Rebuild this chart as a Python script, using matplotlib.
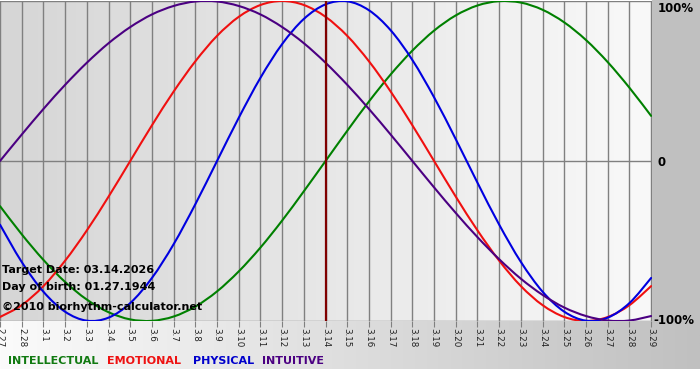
import numpy as np
import matplotlib
matplotlib.use('Agg')
import matplotlib.pyplot as plt
from matplotlib.colors import LinearSegmentedColormap
from matplotlib.patches import Rectangle, PathPatch
from matplotlib.path import Path

# days shown, 2.27 .. 3.29 (target day 3.14 in the middle)
day_labels = ['2.27', '2.28'] + ['3.%d' % i for i in range(1, 30)]
target_idx = 14 + 1

# cycle values (-1 .. 1)
intellectual = [-0.282, -0.458, -0.618, -0.756, -0.866, -0.945, -0.990, -0.999, -0.972, -0.910,
                -0.815, -0.690, -0.541, -0.372, -0.189, 0.000, 0.189, 0.372, 0.541, 0.690,
                0.815, 0.910, 0.972, 0.999, 0.990, 0.945, 0.866, 0.756, 0.618, 0.458, 0.282]
emotional = [-0.975, -0.901, -0.782, -0.623, -0.434, -0.223, 0.000, 0.223, 0.434, 0.623,
             0.782, 0.901, 0.975, 1.000, 0.975, 0.901, 0.782, 0.623, 0.434, 0.223,
             0.000, -0.223, -0.434, -0.623, -0.782, -0.901, -0.975, -1.000, -0.975, -0.901, -0.782]
physical = [-0.398, -0.631, -0.817, -0.942, -0.998, -0.979, -0.888, -0.731, -0.520, -0.270,
            0.000, 0.270, 0.520, 0.731, 0.888, 0.979, 0.998, 0.942, 0.817, 0.631,
            0.398, 0.136, -0.136, -0.398, -0.631, -0.817, -0.942, -0.998, -0.979, -0.888, -0.731]
intuitive = [0.000, 0.165, 0.325, 0.476, 0.614, 0.736, 0.837, 0.916, 0.969, 0.997,
             0.997, 0.969, 0.916, 0.837, 0.736, 0.614, 0.476, 0.325, 0.165, 0.000,
             -0.165, -0.325, -0.476, -0.614, -0.736, -0.837, -0.916, -0.969, -0.997, -0.997, -0.969]

series = [('INTELLECTUAL', intellectual, '#008000', '#117a11'),
          ('EMOTIONAL', emotional, '#f01010', '#ee1111'),
          ('PHYSICAL', physical, '#0000e0', '#0000cc'),
          ('INTUITIVE', intuitive, '#4b0082', '#4b0082')]

W, H = 700, 380
fig = plt.figure(figsize=(W / 100, H / 100), dpi=100)


def fx(x):
    return x / W


def fy(y):
    return 1 - y / H


def smooth_path(xs, ys):
    # catmull-rom through the points, drawn as cubic bezier segments
    pts = np.column_stack([xs, ys]).astype(float)
    ext = np.vstack([pts[0], pts, pts[-1]])
    verts = [pts[0]]
    codes = [Path.MOVETO]
    for i in range(len(pts) - 1):
        p0, p1, p2, p3 = ext[i], ext[i + 1], ext[i + 2], ext[i + 3]
        verts += [p1 + (p2 - p0) / 6, p2 - (p3 - p1) / 6, p2]
        codes += [Path.CURVE4] * 3
    return Path(verts, codes)


# background decorations in pixel coordinates
bg = fig.add_axes([0, 0, 1, 1])
bg.set_xlim(0, W)
bg.set_ylim(H, 0)
bg.axis('off')
grad = np.linspace(0, 1, 256).reshape(1, -1)
bottom_cmap = LinearSegmentedColormap.from_list('b', ['#fbfbfb', '#c0c0c0'])
bg.imshow(grad, cmap=bottom_cmap, aspect='auto', extent=(0, W, 369, 321))
bg.add_patch(Rectangle((652, 0), W - 652, 322, color='#c0c0c0'))

ax = fig.add_axes([0, fy(321), fx(652), (321 - 1) / H])
x = np.arange(len(day_labels))
ax.set_xlim(0, len(day_labels) - 1 + 0.04)
ax.set_ylim(-1, 1)
plot_cmap = LinearSegmentedColormap.from_list('p', ['#d6d6d6', '#f9f9f9'])
ax.imshow(grad, cmap=plot_cmap, aspect='auto',
          extent=(0, len(day_labels) - 1 + 0.04, -1, 1), zorder=0)

ax.set_xticks(x)
ax.set_xticklabels(day_labels, rotation=-90, fontsize=6.3, color='#222222')
ax.set_yticks([-1, 0, 1])
ax.set_yticklabels([])
ax.grid(True, color='#808080', linewidth=1)
ax.set_axisbelow(False)
ax.tick_params(axis='x', length=4, color='#808080', pad=1)
ax.tick_params(axis='y', length=0)
for s in ax.spines.values():
    s.set_visible(False)

for name, vals, col, lcol in series:
    ax.add_patch(PathPatch(smooth_path(x, vals), facecolor='none', edgecolor=col,
                           linewidth=1.5, zorder=3, capstyle='round', joinstyle='round'))
ax.axvline(target_idx, color='#800000', linewidth=1.6, zorder=4)

# right side percentage labels
fig.text(fx(658), fy(8), '100%', fontsize=8.5, fontweight='bold', va='center')
fig.text(fx(658), fy(162), '0', fontsize=8.5, fontweight='bold', va='center')
fig.text(fx(653), fy(321), '-100%', fontsize=8.5, fontweight='bold', va='center')

# info text
fig.text(fx(2), fy(270), 'Target Date: 03.14.2026', fontsize=8, fontweight='bold', va='center')
fig.text(fx(2), fy(287), 'Day of birth: 01.27.1944', fontsize=8, fontweight='bold', va='center')
fig.text(fx(2), fy(307), '\u00a92010 biorhythm-calculator.net', fontsize=8, fontweight='bold', va='center')

# legend
leg_x = [8, 107, 193, 262]
for (name, vals, col, lcol), lx in zip(series, leg_x):
    fig.text(fx(lx), fy(361), name, fontsize=8, fontweight='bold', color=lcol, va='center')

fig.savefig('out.png', dpi=100)
